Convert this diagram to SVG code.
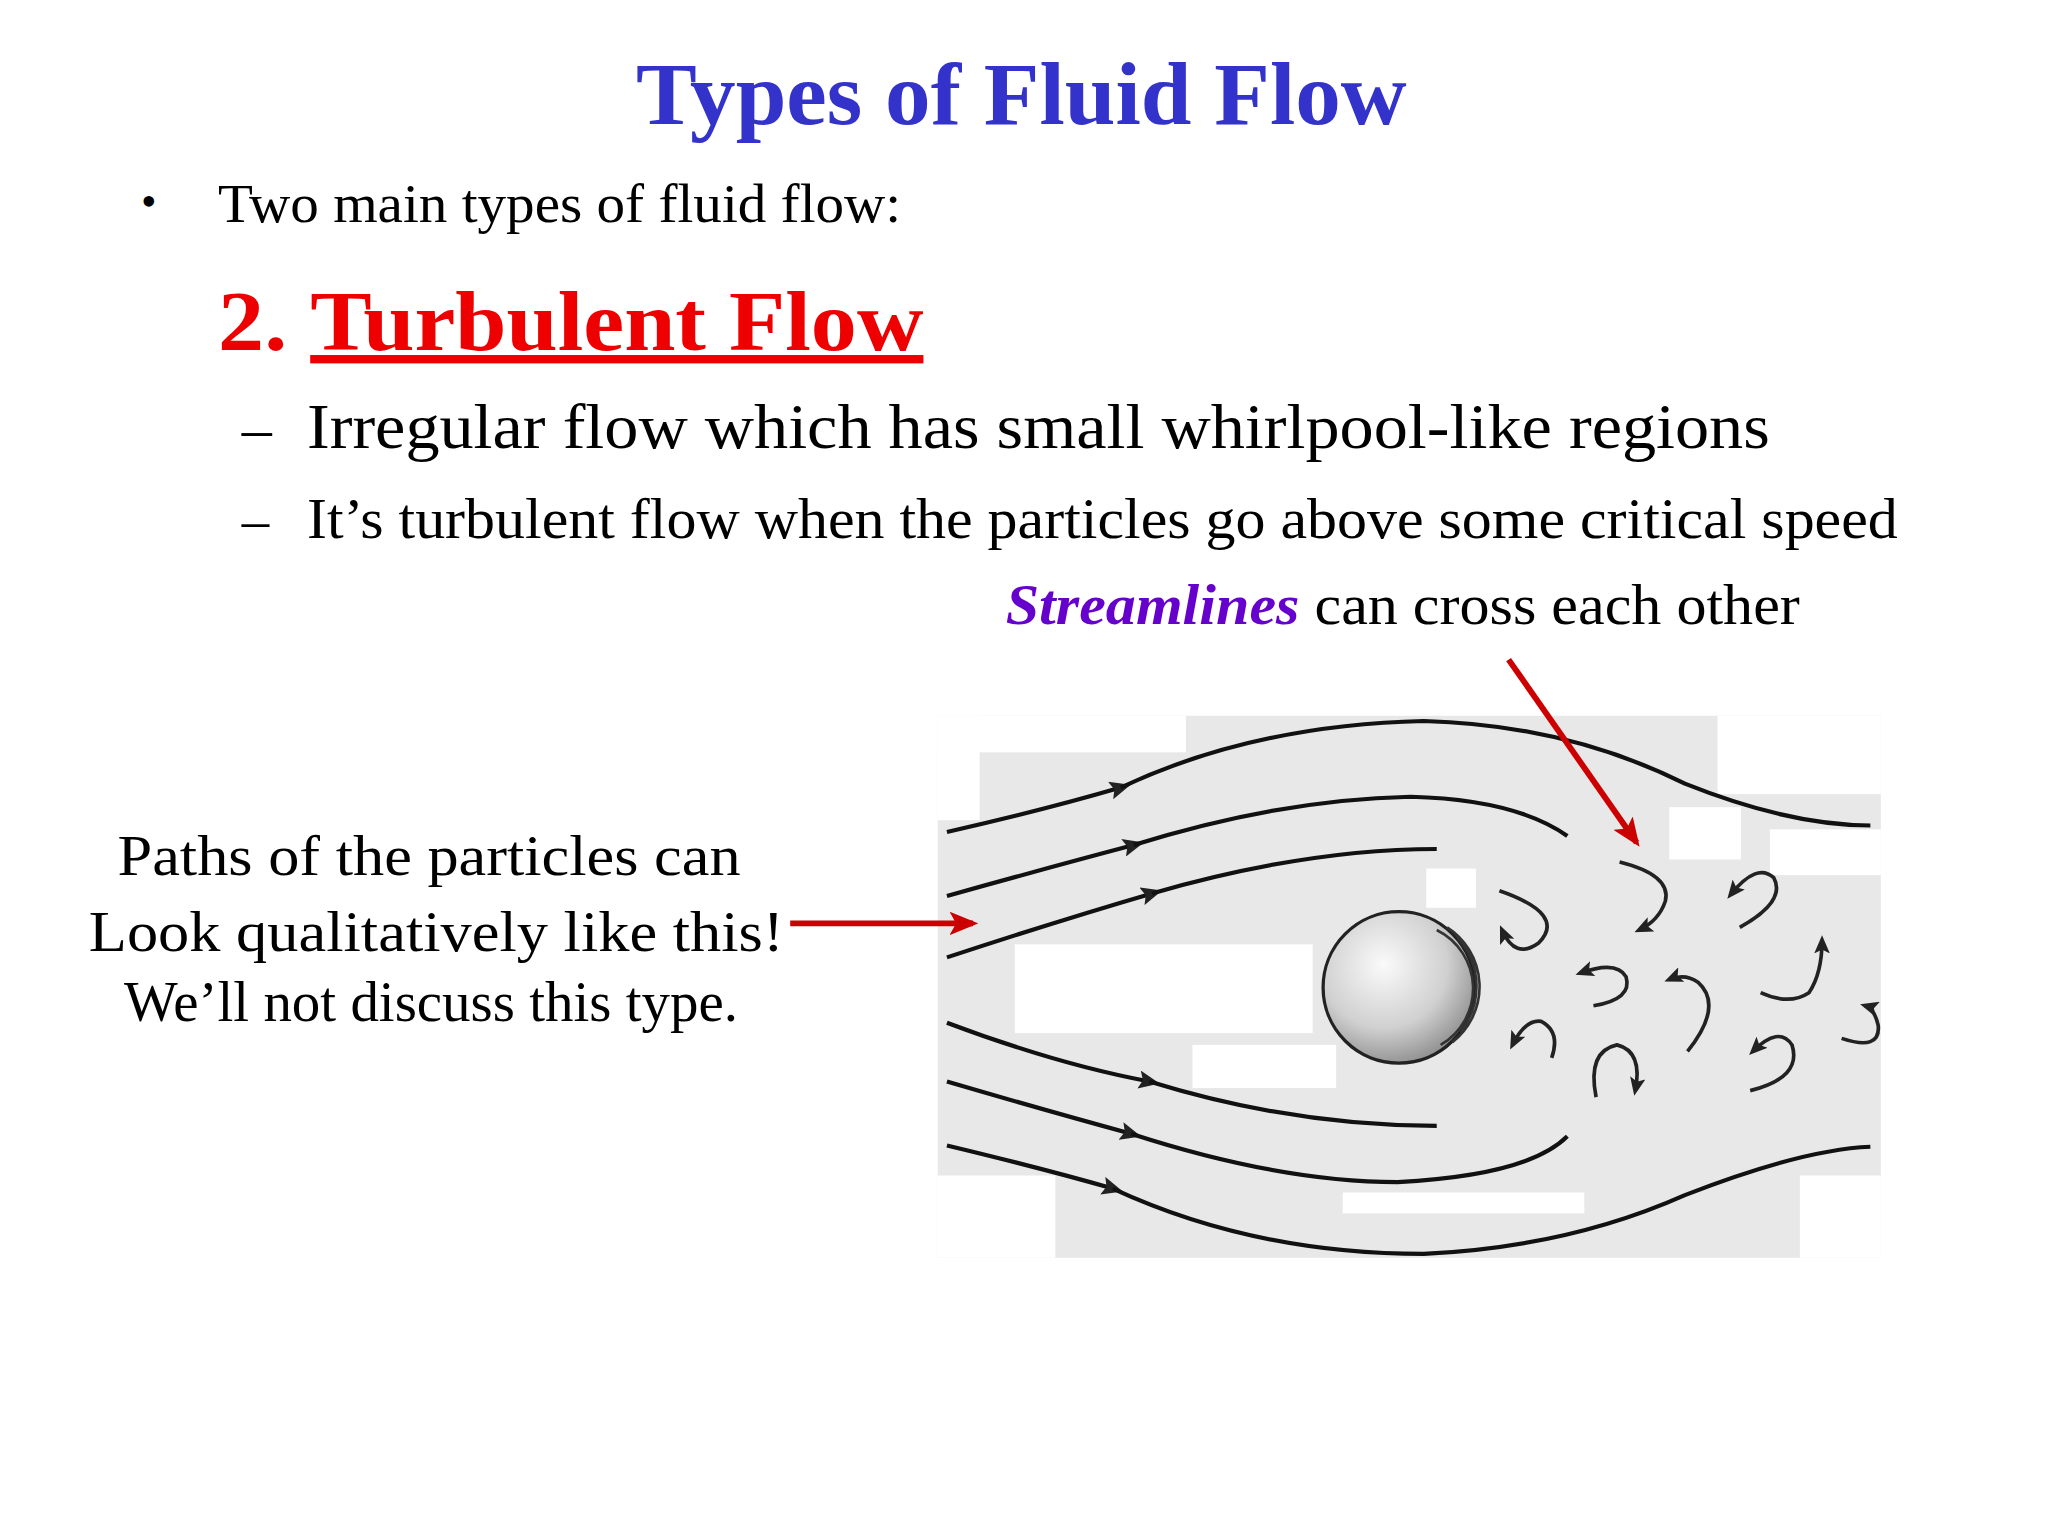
<svg xmlns="http://www.w3.org/2000/svg" width="2048" height="1536" viewBox="0 0 2048 1536">
<defs>
<style>
.s{font-family:"Liberation Serif",serif;fill:#000}
.st{fill:none;stroke:#111;stroke-width:3.2}
.w{fill:none;stroke:#222;stroke-width:2.8;marker-end:url(#ah)}
.ra{stroke:#cc0000;stroke-width:4.5;fill:none;marker-end:url(#rh)}
</style>
<marker id="ah" markerWidth="14" markerHeight="12" refX="10" refY="6" orient="auto" markerUnits="userSpaceOnUse"><path d="M0,0 L14,6 L0,12 L3,6z" fill="#222"/></marker>
<marker id="rh" markerWidth="22" markerHeight="18" refX="18" refY="9" orient="auto" markerUnits="userSpaceOnUse"><path d="M0,0 L22,9 L0,18 L5,9z" fill="#cc0000"/></marker>
<marker id="mh" markerWidth="16" markerHeight="14" refX="8" refY="7" orient="auto" markerUnits="userSpaceOnUse"><path d="M0,0 L16,7 L0,14 L3,7z" fill="#222"/></marker>
<radialGradient id="sg" cx="0.4" cy="0.35" r="0.7"><stop offset="0" stop-color="#fafafa"/><stop offset="0.6" stop-color="#d0d0d0"/><stop offset="1" stop-color="#8a8a8a"/></radialGradient>
</defs>
<rect width="2048" height="1536" fill="#fff"/>
<g transform="scale(1.30612)">
<g id="title"><text x="487" y="95" textLength="590" lengthAdjust="spacingAndGlyphs" font-family="Liberation Serif,serif" font-weight="bold" font-size="68" fill="#3333cc">Types of Fluid Flow</text></g>
<g id="text">
<text class="s" x="108" y="165" font-size="34">•</text>
<text class="s" x="167" y="170" font-size="42" textLength="523" lengthAdjust="spacingAndGlyphs">Two main types of fluid flow:</text>
<text x="167" y="268" font-family="Liberation Serif,serif" font-weight="bold" font-size="64" fill="#ee0000" textLength="540" lengthAdjust="spacingAndGlyphs">2. <tspan text-decoration="underline">Turbulent Flow</tspan></text>
<text class="s" x="185" y="343" font-size="46">–</text>
<text class="s" x="235" y="343" font-size="48" textLength="1120" lengthAdjust="spacingAndGlyphs">Irregular flow which has small whirlpool-like regions</text>
<text class="s" x="185" y="412" font-size="42">–</text>
<text class="s" x="235" y="412" font-size="43" textLength="1218" lengthAdjust="spacingAndGlyphs">It’s turbulent flow when the particles go above some critical speed</text>
<text class="s" x="770" y="478" font-size="43" textLength="608" lengthAdjust="spacingAndGlyphs"><tspan font-weight="bold" font-style="italic" fill="#6600cc">Streamlines</tspan> can cross each other</text>
<text class="s" x="90" y="670" font-size="44" textLength="477" lengthAdjust="spacingAndGlyphs">Paths of the particles can</text>
<text class="s" x="68" y="728" font-size="44" textLength="532" lengthAdjust="spacingAndGlyphs">Look qualitatively like this!</text>
<text class="s" x="95" y="782" font-size="44" textLength="470" lengthAdjust="spacingAndGlyphs">We’ll not discuss this type.</text>
</g>
<g id="diagram">
<rect x="718" y="548" width="722" height="415" fill="#e8e8e8"/>
<g fill="#fff">
<rect x="718" y="548" width="190" height="28"/><rect x="718" y="548" width="32" height="80"/>
<rect x="1315" y="548" width="125" height="60"/><rect x="1355" y="635" width="85" height="35"/>
<rect x="1278" y="618" width="55" height="40"/><rect x="1092" y="665" width="38" height="30"/>
<rect x="777" y="723" width="228" height="68"/><rect x="913" y="800" width="110" height="33"/>
<rect x="1028" y="913" width="185" height="16"/><rect x="1378" y="900" width="62" height="63"/>
<rect x="718" y="900" width="90" height="63"/>
</g>
<circle cx="1071" cy="756" r="58" fill="url(#sg)" stroke="#222" stroke-width="2.5"/>
<path d="M1100,712 A50,50 0 0 1 1103,800 M1108,710 A54,54 0 0 1 1112,798 M1116,718 A55,55 0 0 1 1118,790" fill="none" stroke="#333" stroke-width="2"/>
</g>
<g id="connectors">
<path class="st" marker-end="url(#mh)" d="M725,637 Q800,620 858,603"/><path class="st" d="M858,603 Q960,555 1090,552 Q1200,555 1290,600 Q1370,632 1432,632"/>
<path class="st" marker-end="url(#mh)" d="M725,686 Q800,665 868,647"/><path class="st" d="M868,647 Q980,612 1080,610 Q1160,612 1200,640"/>
<path class="st" marker-end="url(#mh)" d="M725,733 Q810,705 882,684"/><path class="st" d="M882,684 Q1000,650 1100,650"/>
<path class="st" marker-end="url(#mh)" d="M725,783 Q810,815 880,828"/><path class="st" d="M880,828 Q990,862 1100,862"/>
<path class="st" marker-end="url(#mh)" d="M725,828 Q800,850 866,868"/><path class="st" d="M866,868 Q980,905 1070,905 Q1170,900 1200,870"/>
<path class="st" marker-end="url(#mh)" d="M725,877 Q800,895 852,910"/><path class="st" d="M852,910 Q960,960 1090,960 Q1200,955 1290,915 Q1380,880 1432,878"/>
<path class="w" d="M1148,682 Q1200,700 1178,722 Q1160,735 1150,712"/>
<path class="w" d="M1240,660 Q1280,670 1275,690 Q1270,705 1255,712"/>
<path class="w" d="M1332,710 Q1368,690 1358,672 Q1345,660 1325,685"/>
<path class="w" d="M1220,770 Q1250,765 1245,748 Q1238,735 1210,745"/>
<path class="w" d="M1292,805 Q1320,770 1300,752 Q1290,745 1278,750"/>
<path class="w" d="M1348,760 Q1370,770 1385,760 Q1395,745 1395,720"/>
<path class="w" d="M1188,810 Q1195,790 1180,782 Q1168,780 1158,800"/>
<path class="w" d="M1222,840 Q1215,805 1238,800 Q1258,805 1252,835"/>
<path class="w" d="M1340,835 Q1380,825 1372,800 Q1362,785 1342,805"/>
<path class="w" d="M1410,795 Q1440,805 1438,785 Q1435,772 1428,770"/>
<path class="ra" d="M605,707 L745,707"/>
<path class="ra" d="M1155,505 L1253,645"/>
</g>
</g>
</svg>
